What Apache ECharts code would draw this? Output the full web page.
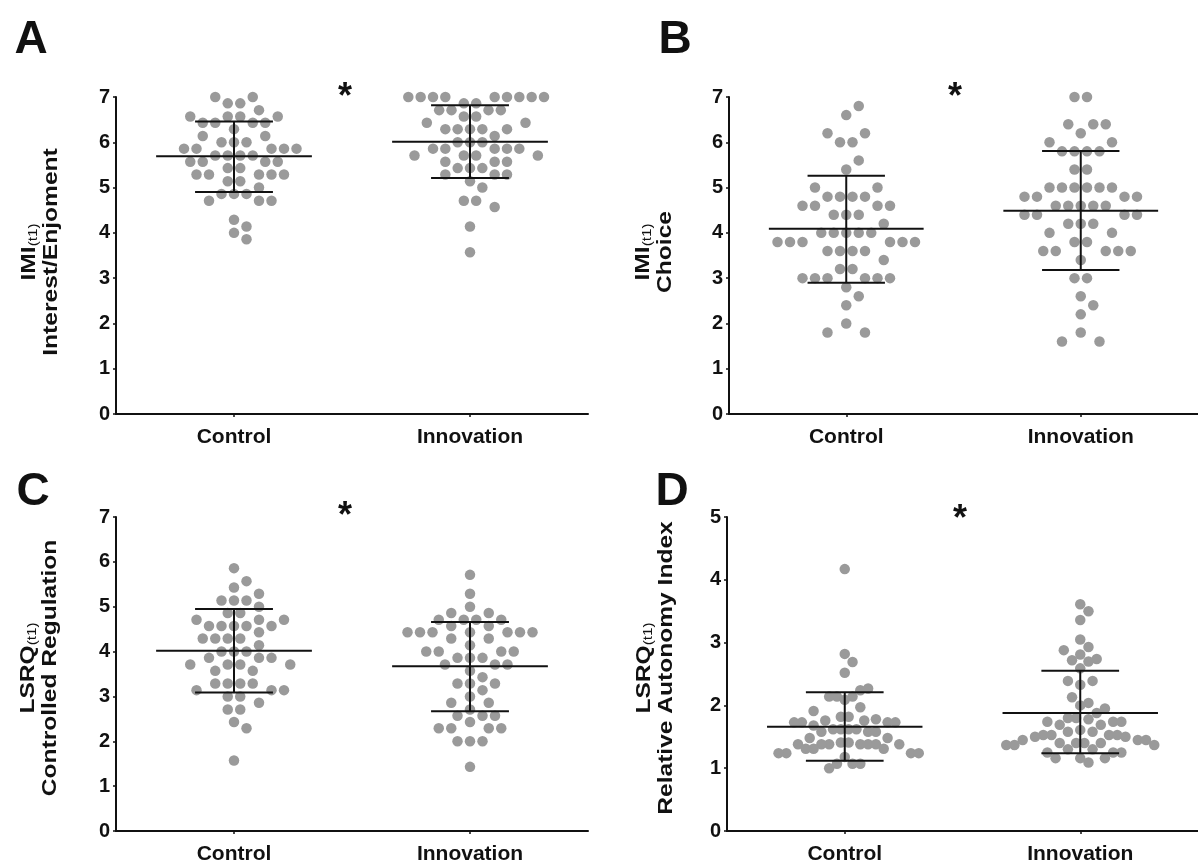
<!DOCTYPE html>
<html>
<head>
<meta charset="utf-8">
<script src="https://cdn.jsdelivr.net/npm/echarts@6/dist/echarts.min.js"></script>
<style>
  html, body { margin: 0; padding: 0; background: #fff; }
  #chart { width: 1198px; height: 865px; }
</style>
</head>
<body>
<div id="chart"></div>
<script>
var groups = ['Control', 'Innovation'];
var groupX = [1, 3];

// A - IMI(t1) Interest/Enjoyment
var aControl = [7.0, 7.0, 6.86, 6.86, 6.71, 6.57, 6.57, 6.57, 6.57, 6.43, 6.43, 6.43, 6.43, 6.29, 6.14, 6.14,
  6.0, 6.0, 6.0, 5.86, 5.86, 5.86, 5.86, 5.86, 5.71, 5.71, 5.71, 5.71, 5.57, 5.57, 5.57, 5.57, 5.43, 5.43,
  5.29, 5.29, 5.29, 5.29, 5.29, 5.14, 5.14, 5.0, 4.86, 4.86, 4.86, 4.71, 4.71, 4.71, 4.29, 4.14, 4.0, 3.86];
var aInnovation = [7.0, 7.0, 7.0, 7.0, 7.0, 7.0, 7.0, 7.0, 7.0, 6.86, 6.86, 6.71, 6.71, 6.71, 6.71, 6.57, 6.57,
  6.43, 6.43, 6.29, 6.29, 6.29, 6.29, 6.29, 6.14, 6.0, 6.0, 6.0, 5.86, 5.86, 5.86, 5.86, 5.86, 5.71, 5.71, 5.71, 5.71,
  5.57, 5.57, 5.57, 5.43, 5.43, 5.43, 5.29, 5.29, 5.29, 5.14, 5.0, 4.71, 4.71, 4.57, 4.14, 3.57];
var aMean = [5.69, 6.01];
var aLow = [4.90, 5.21];
var aHigh = [6.46, 6.82];

// B - IMI(t1) Choice
var bControl = [6.8, 6.6, 6.2, 6.2, 6.0, 6.0, 5.6, 5.4, 5.0, 5.0, 4.8, 4.8, 4.8, 4.8, 4.6, 4.6, 4.6, 4.6,
  4.4, 4.4, 4.4, 4.2, 4.0, 4.0, 4.0, 4.0, 4.0, 3.8, 3.8, 3.8, 3.8, 3.8, 3.8, 3.6, 3.6, 3.6, 3.6, 3.4, 3.2, 3.2,
  3.0, 3.0, 3.0, 3.0, 3.0, 3.0, 2.8, 2.6, 2.4, 2.0, 1.8, 1.8];
var bInnovation = [7.0, 7.0, 6.4, 6.4, 6.4, 6.2, 6.0, 6.0, 5.8, 5.8, 5.8, 5.8, 5.4, 5.4, 5.0, 5.0, 5.0, 5.0, 5.0, 5.0,
  4.8, 4.8, 4.8, 4.8, 4.6, 4.6, 4.6, 4.6, 4.6, 4.4, 4.4, 4.4, 4.4, 4.2, 4.2, 4.2, 4.0, 4.0, 3.8, 3.8,
  3.6, 3.6, 3.6, 3.6, 3.6, 3.4, 3.0, 3.0, 2.6, 2.4, 2.2, 1.8, 1.6, 1.6];
var bMean = [4.09, 4.49];
var bLow = [2.90, 3.18];
var bHigh = [5.26, 5.81];

// C - LSRQ(t1) Controlled Regulation
var cControl = [5.86, 5.57, 5.43, 5.29, 5.14, 5.14, 5.14, 5.0, 4.86, 4.86, 4.71, 4.71, 4.71, 4.57, 4.57, 4.57, 4.57, 4.57,
  4.43, 4.29, 4.29, 4.29, 4.29, 4.14, 4.0, 4.0, 4.0, 3.86, 3.86, 3.86, 3.71, 3.71, 3.71, 3.71, 3.57, 3.57,
  3.29, 3.29, 3.29, 3.29, 3.14, 3.14, 3.14, 3.0, 3.0, 2.86, 2.71, 2.71, 2.43, 2.29, 1.57];
var cInnovation = [5.71, 5.29, 5.0, 4.86, 4.86, 4.71, 4.71, 4.71, 4.71, 4.57, 4.57, 4.43, 4.43, 4.43, 4.43, 4.43, 4.43, 4.43,
  4.29, 4.29, 4.14, 4.0, 4.0, 4.0, 4.0, 3.86, 3.86, 3.86, 3.71, 3.71, 3.71, 3.57, 3.43, 3.29, 3.29, 3.29, 3.14, 3.0,
  2.86, 2.86, 2.71, 2.57, 2.57, 2.57, 2.43, 2.29, 2.29, 2.29, 2.29, 2.0, 2.0, 2.0, 1.43];
var cMean = [4.02, 3.67];
var cLow = [3.09, 2.67];
var cHigh = [4.95, 4.66];

// D - LSRQ(t1) Relative Autonomy Index
var dControl = [4.17, 2.82, 2.69, 2.52, 2.27, 2.24, 2.14, 2.14, 2.14, 2.09, 1.97, 1.91, 1.82, 1.82, 1.78, 1.76, 1.76,
  1.73, 1.73, 1.73, 1.73, 1.68, 1.62, 1.62, 1.62, 1.62, 1.58, 1.58, 1.58, 1.48, 1.48, 1.41, 1.41,
  1.38, 1.38, 1.38, 1.38, 1.38, 1.38, 1.38, 1.31, 1.31, 1.31, 1.24, 1.24, 1.24, 1.24, 1.18, 1.07, 1.07, 1.07, 1.0];
var dInnovation = [3.61, 3.50, 3.36, 3.05, 2.93, 2.88, 2.81, 2.74, 2.72, 2.70, 2.59, 2.39, 2.39, 2.33, 2.13, 2.04, 2.0,
  1.95, 1.88, 1.80, 1.80, 1.78, 1.74, 1.74, 1.74, 1.69, 1.69, 1.61, 1.58, 1.58, 1.53, 1.53, 1.53, 1.53, 1.50, 1.50,
  1.45, 1.45, 1.45, 1.40, 1.40, 1.40, 1.40, 1.37, 1.37, 1.37, 1.30, 1.30, 1.25, 1.25, 1.25, 1.16, 1.16, 1.16, 1.09];
var dMean = [1.66, 1.88];
var dLow = [1.12, 1.24];
var dHigh = [2.21, 2.55];

var yMax = [7, 7, 7, 5];
var letters = ['A', 'B', 'C', 'D'];
var titleTop = ['IMI', 'IMI', 'LSRQ', 'LSRQ'];
var titleBottom = ['Interest/Enjoment', 'Choice', 'Controlled Regulation', 'Relative Autonomy Index'];

var panels = [
  { pts: [aControl, aInnovation], mean: aMean, low: aLow, high: aHigh },
  { pts: [bControl, bInnovation], mean: bMean, low: bLow, high: bHigh },
  { pts: [cControl, cInnovation], mean: cMean, low: cLow, high: cHigh },
  { pts: [dControl, dInnovation], mean: dMean, low: dLow, high: dHigh }
];

var font = 'Liberation Sans, Arial, sans-serif';
var ink = '#111';
var dotColor = '#9a9a9a';
var meanHalf = 0.66, capHalf = 0.33;

var grids = [
  { left: 116, top: 97, width: 472, height: 317 },
  { left: 729, top: 97, width: 476, height: 317 },
  { left: 116, top: 517, width: 472, height: 315 },
  { left: 727, top: 517, width: 476, height: 315 }
];

var xAxes = [], yAxes = [], barSeries = [];
panels.forEach(function (p, i) {
  xAxes.push({
    type: 'value', gridIndex: i, min: 0, max: 4,
    axisLine: { show: true, lineStyle: { color: ink, width: 2 } },
    axisTick: { show: true, customValues: groupX, length: 3, lineStyle: { color: ink, width: 1.5 } },
    axisLabel: {
      customValues: groupX, margin: 13, color: ink, fontFamily: font, fontWeight: 'bold', fontSize: 21,
      formatter: function (v) { return groups[groupX.indexOf(v)] || ''; }
    },
    splitLine: { show: false }
  });
  yAxes.push({
    type: 'value', gridIndex: i, min: 0, max: yMax[i], interval: 1,
    axisLine: { show: true, lineStyle: { color: ink, width: 2 } },
    axisTick: { show: true, length: 3, lineStyle: { color: ink, width: 1.5 } },
    axisLabel: { color: ink, fontFamily: font, fontWeight: 'bold', fontSize: 20, margin: 6 },
    splitLine: { show: false }
  });
  barSeries.push({
    type: 'custom', xAxisIndex: i, yAxisIndex: i, z: 5,
    data: groupX.map(function (x, g) { return [x, p.mean[g], p.low[g], p.high[g]]; }),
    renderItem: function (params, api) {
      var x = api.value(0), m = api.value(1), lo = api.value(2), hi = api.value(3);
      var segs = [[-meanHalf, m, meanHalf, m], [-capHalf, lo, capHalf, lo], [-capHalf, hi, capHalf, hi], [0, lo, 0, hi]];
      return {
        type: 'group',
        children: segs.map(function (s) {
          var a = api.coord([x + s[0], s[1]]), b = api.coord([x + s[2], s[3]]);
          return { type: 'line', shape: { x1: a[0], y1: a[1], x2: b[0], y2: b[1] }, style: { stroke: ink, lineWidth: 2 } };
        })
      };
    }
  });
});

var graphics = [];
var letterPos = [[31, 40], [675, 40], [33, 492], [672, 492]];
var starPos = [[345, 98], [955, 98], [345, 517], [960, 520]];
var titlePos = [[40, 252], [654, 252], [39, 668], [655, 668]];
letters.forEach(function (l, i) {
  graphics.push({ type: 'text', x: letterPos[i][0], y: letterPos[i][1],
    style: { text: l, fontFamily: font, fontWeight: 'bold', fontSize: 46, fill: ink, align: 'center', verticalAlign: 'middle' } });
  graphics.push({ type: 'text', x: starPos[i][0], y: starPos[i][1],
    style: { text: '*', fontFamily: font, fontWeight: 'bold', fontSize: 36, fill: ink, align: 'center', verticalAlign: 'middle' } });
  // y-axis titles, slightly stretched along the text like the original export
  graphics.push({ type: 'text', x: titlePos[i][0], y: titlePos[i][1], rotation: Math.PI / 2, scaleX: 1.17,
    style: {
      text: '{m|' + titleTop[i] + '}{s|(t1)}\n{m|' + titleBottom[i] + '}',
      align: 'center', verticalAlign: 'middle',
      rich: {
        m: { fontFamily: font, fontWeight: 'bold', fontSize: 21, fill: ink, lineHeight: 22, align: 'center' },
        s: { fontFamily: font, fontWeight: 'normal', fontSize: 13, fill: ink, lineHeight: 13, verticalAlign: 'bottom' }
      }
    } });
});

var chart = echarts.init(document.getElementById('chart'));
chart.setOption({
  animation: false,
  backgroundColor: '#fff',
  grid: grids,
  xAxis: xAxes,
  yAxis: yAxes,
  graphic: graphics,
  series: barSeries
});

// beeswarm offsets (pixels -> x data units), rows grow outward from the median;
// a column wider than maxHalf pixels gets squeezed so the dots overlap instead
function swarm(values, ux, uy, step, maxHalf) {
  var sorted = values.slice().sort(function (a, b) { return a - b; });
  var median = sorted[Math.floor(sorted.length / 2)];
  var rows = {};
  values.forEach(function (v, i) { (rows[v] = rows[v] || []).push(i); });
  var keys = Object.keys(rows).map(Number).sort(function (a, b) {
    return Math.abs(a - median) - Math.abs(b - median) || rows[b].length - rows[a].length;
  });
  var placed = [], px = [];
  function free(x, v) {
    for (var j = 0; j < placed.length; j++) {
      var dx = x - placed[j][0], dy = (v - placed[j][1]) * uy;
      if (dx * dx + dy * dy < step * step * 0.94) return false;
    }
    return true;
  }
  keys.forEach(function (v) {
    var idx = rows[v], half = idx.length % 2 ? 0 : 0.5, left = 0, right = 0;
    idx.forEach(function (i) {
      for (var k = 0; k < 60; k++) {
        var mag = (k + half) * step;
        var cands = mag === 0 ? [0] : (right <= left ? [mag, -mag] : [-mag, mag]);
        var hit = null;
        for (var c = 0; c < cands.length; c++) { if (free(cands[c], v)) { hit = cands[c]; break; } }
        if (hit !== null) {
          placed.push([hit, v]);
          if (hit > 0) right++; else if (hit < 0) left++;
          px[i] = hit;
          break;
        }
      }
    });
  });
  var widest = Math.max.apply(null, px.map(Math.abs));
  var squeeze = widest > maxHalf ? maxHalf / widest : 1;
  return px.map(function (x) { return x * squeeze / ux; });
}

var dotSeries = [];
panels.forEach(function (p, i) {
  var ux = chart.convertToPixel({ xAxisIndex: i }, 1) - chart.convertToPixel({ xAxisIndex: i }, 0);
  var uy = chart.convertToPixel({ yAxisIndex: i }, 0) - chart.convertToPixel({ yAxisIndex: i }, 1);
  p.pts.forEach(function (vals, g) {
    var off = swarm(vals, ux, uy, 12.5, 74);
    dotSeries.push({
      type: 'scatter', name: groups[g], xAxisIndex: i, yAxisIndex: i, z: 2,
      symbol: 'circle', symbolSize: 10.5,
      itemStyle: { color: dotColor, opacity: 1 },
      data: vals.map(function (v, k) { return [groupX[g] + off[k], v]; })
    });
  });
});

chart.setOption({ series: barSeries.concat(dotSeries) });

window.onresize = function () {
  chart.resize();
};
</script>
</body>
</html>
